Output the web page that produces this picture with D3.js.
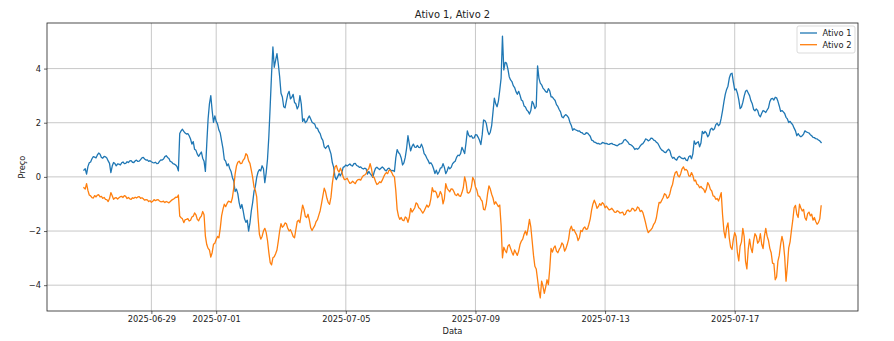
<!DOCTYPE html>
<html>
<head>
<meta charset="utf-8">
<script src="https://cdn.jsdelivr.net/npm/d3@7"></script>
<style>
  html, body { margin: 0; padding: 0; background: #ffffff; }
  svg { display: block; font-family: "DejaVu Sans", sans-serif; }
</style>
</head>
<body>
<svg id="chart" width="894" height="341"></svg>
<script>
// Hourly series, first sample 2025-06-26 22:00 UTC
const startTime = "2025-06-26T22:00:00Z";
const stepHours = 1;

const seriesNames = ["Ativo 1", "Ativo 2"];
const seriesColors = ["#1f77b4", "#ff7f0e"];

const ativo1 = [
  0.25, 0.30, 0.10, 0.38, 0.52, 0.55, 0.67, 0.75, 0.73, 0.70,
  0.81, 0.88, 0.84, 0.72, 0.69, 0.76, 0.74, 0.70, 0.59, 0.50,
  0.16, 0.40, 0.53, 0.49, 0.41, 0.48, 0.47, 0.44, 0.52, 0.55,
  0.49, 0.50, 0.56, 0.53, 0.59, 0.60, 0.54, 0.53, 0.59, 0.62,
  0.57, 0.58, 0.64, 0.70, 0.72, 0.66, 0.62, 0.63, 0.57, 0.60,
  0.56, 0.53, 0.52, 0.54, 0.49, 0.50, 0.57, 0.63, 0.62, 0.66,
  0.75, 0.78, 0.72, 0.68, 0.57, 0.55, 0.49, 0.47, 0.44, 0.38,
  0.22, 1.60, 1.70, 1.76, 1.68, 1.62, 1.58, 1.60, 1.52, 1.40,
  1.21, 1.30, 1.02, 0.98, 0.84, 0.76, 0.84, 0.92, 0.69, 0.58,
  0.20, 1.20, 2.14, 2.70, 3.00, 2.45, 2.01, 2.25, 2.05, 1.95,
  1.73, 1.62, 1.33, 1.05, 0.65, 0.58, 0.41, 0.48,
  0.31, 0.20, -0.02, -0.15, -0.54, -0.45, -0.62, -0.95, -1.16, -1.02,
  -1.26, -1.55, -1.68, -1.60, -2.00, -1.70, -1.26, -0.95, -0.54, -0.35,
  -0.02, 0.18, 0.27, 0.22, 0.41, 0.30, -0.21, 0.15, 0.65, 1.50,
  2.63, 3.80, 4.80, 4.05, 4.30, 4.55, 4.17, 3.70, 3.09, 2.95,
  2.59, 2.55, 2.81, 3.05, 3.16, 2.88, 2.94, 3.05, 2.75, 2.70,
  2.51, 2.62, 3.00, 2.70, 2.05, 2.15, 2.00, 2.05, 2.17, 2.25,
  2.14, 2.02, 1.98, 1.95, 1.80, 1.80, 1.67, 1.60, 1.43, 1.35,
  1.11, 1.05, 1.12, 1.16, 1.00, 0.85, 0.53, 0.35, 0.00, -0.10,
  0.01, 0.12, 0.04, 0.15, 0.35, 0.38, 0.44, 0.40, 0.44, 0.48,
  0.42, 0.40, 0.49, 0.50, 0.42, 0.40, 0.35, 0.37, 0.32, 0.29,
  0.32, 0.30,
  0.10, 0.20, 0.12, 0.06, -0.02, 0.18, 0.32, 0.36, 0.31, 0.27,
  0.32, 0.37, 0.32, 0.25, 0.22, 0.30, 0.32, 0.26, 0.22, 0.24,
  0.20, 0.70, 1.01, 0.90, 0.84, 0.70, 0.44, 0.52, 0.72, 1.05,
  1.52, 1.22, 0.96, 1.12, 1.21, 1.10, 1.09, 1.16, 1.09, 1.08,
  1.21, 1.08, 0.86, 0.80, 0.69, 0.60, 0.49, 0.52, 0.44, 0.30,
  0.12, 0.25, 0.10, 0.18, 0.32, 0.34, 0.49, 0.35, 0.12, 0.22,
  0.37, 0.30, 0.35, 0.48, 0.54, 0.58, 0.72, 0.80, 0.78, 0.86,
  1.09, 0.98, 0.86, 1.25, 1.70, 1.54, 1.48, 1.52, 1.43, 1.44,
  1.56, 1.55, 1.46, 1.35, 1.19, 1.55, 2.10, 2.08, 1.98, 1.70,
  1.56, 1.65, 1.89, 2.40, 2.91, 2.70, 2.59, 2.80, 3.20, 3.65,
  5.20, 3.95, 4.23, 4.20, 3.99, 3.70, 3.58, 3.52, 3.37, 3.30,
  3.15, 3.05, 3.16, 3.02, 2.84, 2.80, 2.62, 2.58, 2.47, 2.42,
  2.32, 2.45, 2.79, 2.70, 2.52, 2.60, 4.10, 3.65, 3.46, 3.40,
  3.28, 3.22, 3.15, 3.12, 3.26, 3.18, 2.96, 2.95, 2.88, 2.82,
  2.67, 2.60, 2.49, 2.40, 2.22, 2.18, 2.26, 2.30, 2.25, 2.18,
  2.01, 1.90, 1.72, 1.78, 1.74, 1.72, 1.69, 1.70, 1.64, 1.63,
  1.58, 1.57, 1.63, 1.62, 1.56, 1.50, 1.36, 1.34, 1.28, 1.27,
  1.23, 1.24, 1.21, 1.22, 1.27, 1.26, 1.23, 1.24, 1.21, 1.20,
  1.23, 1.24, 1.20, 1.19, 1.16, 1.15, 1.19, 1.22, 1.23, 1.26,
  1.36, 1.38, 1.33, 1.28, 1.20, 1.19, 1.15, 1.10, 1.01, 1.05,
  1.02, 1.06, 1.14, 1.20, 1.23, 1.30, 1.40, 1.38, 1.33, 1.36,
  1.43, 1.42, 1.36, 1.34, 1.28, 1.24, 1.15, 1.05, 0.99, 0.96,
  0.91, 0.90,
  0.97, 1.02, 0.96, 0.78, 0.69, 0.72, 0.65, 0.62, 0.72, 0.76,
  0.72, 0.68, 0.67, 0.70, 0.62, 0.60, 0.74, 0.78, 0.67, 0.85,
  1.33, 1.20, 1.26, 1.30, 1.11, 1.25, 1.68, 1.60, 1.68, 1.62,
  1.48, 1.55, 1.75, 1.80, 1.73, 1.78, 1.93, 1.98, 1.89, 1.95,
  2.17, 2.45, 2.77, 3.05, 3.23, 3.35, 3.65, 3.80, 3.83, 3.50,
  3.21, 3.25, 3.09, 2.85, 2.52, 2.58, 2.75, 2.98, 3.16, 3.20,
  3.10, 3.00, 2.81, 2.70, 2.49, 2.44, 2.51, 2.45, 2.28, 2.22,
  2.35, 2.45, 2.42, 2.38, 2.47, 2.55, 2.78, 2.88, 2.90, 2.84,
  2.94, 2.92, 2.79, 2.62, 2.42, 2.45, 2.40, 2.34, 2.20, 2.14,
  2.01, 2.05, 1.98, 1.92, 1.80, 1.70, 1.52, 1.60, 1.52, 1.48,
  1.52, 1.58, 1.70, 1.66, 1.64, 1.62, 1.56, 1.52, 1.46, 1.45,
  1.41, 1.40, 1.36, 1.33, 1.27
];

const ativo2 = [
  -0.40, -0.45, -0.25, -0.50, -0.67, -0.70, -0.77, -0.78, -0.69, -0.74,
  -0.67, -0.66, -0.74, -0.72, -0.79, -0.76, -0.83, -0.84, -0.91, -0.80,
  -0.58, -0.70, -0.83, -0.78, -0.77, -0.82, -0.77, -0.73, -0.72, -0.76,
  -0.69, -0.72, -0.80, -0.76, -0.81, -0.83, -0.77, -0.79, -0.75, -0.78,
  -0.74, -0.73, -0.79, -0.77, -0.81, -0.86, -0.84, -0.85, -0.91, -0.88,
  -0.94, -0.90, -0.84, -0.88, -0.85, -0.84, -0.89, -0.92, -0.91, -0.90,
  -0.95, -0.91, -0.93, -0.96, -0.91, -0.86, -0.83, -0.80, -0.75, -0.76,
  -0.67, -1.45, -1.51, -1.55, -1.69, -1.58, -1.57, -1.54, -1.63, -1.60,
  -1.48, -1.45, -1.33, -1.40, -1.57, -1.62, -1.51, -1.45, -1.28, -1.40,
  -2.19, -2.50, -2.64, -2.70, -2.96, -2.80, -2.49, -2.45, -2.31, -2.20,
  -2.25, -1.90, -1.44, -1.20, -1.01, -1.10, -0.99, -0.90,
  -0.91, -0.95, -0.77, -0.40, 0.10, 0.40, 0.54, 0.58, 0.49, 0.50,
  0.62, 0.68, 0.86, 0.80, 0.59, 0.50, 0.25, -0.02, -0.37, -0.50,
  -0.74, -1.50, -2.12, -2.30, -2.20, -2.00, -1.90, -2.05, -2.35, -2.80,
  -3.17, -3.25, -2.99, -2.95, -2.84, -2.70, -2.37, -2.00, -1.73, -1.86,
  -1.81, -1.70, -1.73, -1.90, -2.00, -1.95, -2.06, -2.20, -2.25, -1.95,
  -1.65, -1.60, -1.69, -1.35, -1.04, -1.20, -1.46, -1.50, -1.38, -1.60,
  -1.88, -1.98, -1.88, -1.80, -1.65, -1.58, -1.41, -1.25, -0.99, -0.70,
  -0.42, -0.55, -0.79, -0.95, -1.01, -0.75, -0.25, 0.10, 0.37, 0.42,
  0.25, 0.18, 0.32, 0.20, 0.00, -0.10, -0.09, -0.05, -0.15, -0.24,
  -0.22, -0.16, -0.21, -0.25, -0.15, -0.10, -0.09, -0.12, -0.02, 0.05,
  0.07, 0.12,
  0.25, 0.30, 0.49, 0.30, 0.00, -0.02, -0.17, -0.28, -0.25, -0.18,
  -0.21, -0.12, 0.00, 0.10, 0.16, 0.12, 0.25, 0.24, 0.16, 0.05,
  0.00, -0.50, -1.20, -1.45, -1.57, -1.50, -1.60, -1.62, -1.48, -1.52,
  -1.68, -1.50, -1.16, -1.30, -1.23, -1.15, -0.96, -1.00, -1.14, -1.18,
  -1.26, -1.34, -1.26, -1.15, -1.04, -1.12, -1.04, -0.80, -0.40, -0.55,
  -0.52, -0.58, -0.77, -0.70, -0.54, -0.65, -1.00, -0.80, -0.25, -0.42,
  -0.49, -0.55, -0.44, -0.45, -0.54, -0.66, -0.69, -0.62, -0.70, -0.72,
  -0.58, -0.40, 0.00, -0.20, -0.58, -0.60, -0.54, -0.38, -0.02, -0.12,
  -0.37, -0.48, -0.70, -0.72, -0.83, -0.90, -1.20, -1.22, -1.01, -0.62,
  -0.33, -0.45, -0.64, -0.78, -1.01, -0.92, -1.01, -1.10, -1.04, -1.80,
  -2.99, -2.60, -2.72, -2.80, -2.56, -2.50, -2.64, -2.78, -2.89, -2.70,
  -2.80, -2.90, -2.74, -2.50, -2.37, -2.30, -2.12, -2.00, -2.15, -1.90,
  -1.57, -1.85, -2.37, -2.90, -3.30, -3.40, -3.79, -4.20, -4.47, -3.85,
  -4.04, -4.30, -4.07, -3.80, -3.98, -3.40, -2.64, -2.78, -2.62, -2.55,
  -2.74, -2.80, -2.68, -2.60, -2.44, -2.50, -2.74, -2.65, -2.49, -2.30,
  -1.94, -1.82, -1.98, -1.95, -2.06, -2.15, -2.35, -2.25, -1.98, -2.02,
  -1.90, -1.85, -1.94, -1.92, -1.75, -1.55, -1.23, -1.00, -0.86, -0.98,
  -1.16, -1.10, -0.99, -1.05, -0.95, -1.00, -1.14, -1.08, -1.15, -1.22,
  -1.20, -1.16, -1.23, -1.30, -1.31, -1.25, -1.28, -1.34, -1.32, -1.30,
  -1.41, -1.38, -1.26, -1.22, -1.28, -1.26, -1.16, -1.18, -1.26, -1.22,
  -1.11, -1.15, -1.28, -1.24, -1.32, -1.50, -1.70, -1.92, -2.06, -2.00,
  -1.95, -1.88, -1.75, -1.68, -1.51, -1.20, -0.94, -0.96, -0.86, -0.76,
  -0.62, -0.66,
  -0.79, -0.75, -0.62, -0.40, -0.27, 0.00, 0.16, 0.20, 0.04, 0.00,
  0.12, 0.30, 0.37, 0.25, 0.28, 0.22, 0.04, 0.02, 0.16, 0.05,
  -0.15, -0.12, -0.27, -0.30, -0.40, -0.35, -0.42, -0.46, -0.58, -0.45,
  -0.21, -0.30, -0.46, -0.52, -0.70, -0.72, -0.83, -0.80, -0.89, -0.75,
  -0.58, -1.40, -2.00, -2.25, -1.88, -1.70, -2.27, -2.60, -2.68, -2.30,
  -2.06, -2.20, -2.80, -3.10, -2.56, -2.40, -1.90, -2.20, -3.11, -3.40,
  -2.68, -2.30, -2.62, -2.80, -2.37, -2.10, -2.19, -2.45, -2.37, -2.10,
  -2.49, -2.65, -2.19, -1.90, -2.19, -2.35, -2.64, -2.80, -3.19, -3.20,
  -3.80, -3.70, -3.11, -2.90, -2.49, -2.20, -2.43, -2.95, -3.85, -3.30,
  -2.62, -2.40, -1.98, -1.60, -1.14, -1.05, -1.38, -1.50, -1.01, -1.15,
  -1.26, -1.20, -1.51, -1.60, -1.36, -1.30, -1.44, -1.38, -1.60, -1.50,
  -1.65, -1.75, -1.69, -1.55, -1.07
];

const xTickLabels = ["2025-06-29", "2025-07-01", "2025-07-05", "2025-07-09", "2025-07-13", "2025-07-17"];
const yTickValues = [-4, -2, 0, 2, 4];

const titleText = "Ativo 1, Ativo 2";
const xLabelText = "Data";
const yLabelText = "Preço";

// ---- layout ----
const plot = { left: 47, right: 858, top: 23, bottom: 311 };
const svg = d3.select("#chart");

const t0 = new Date(startTime);
const times = ativo1.map((_, i) => new Date(t0.getTime() + i * stepHours * 3600e3));

// matplotlib-like 5% margins on both axes
const tExt = d3.extent(times);
const tPad = (tExt[1] - tExt[0]) * 0.05;
const x = d3.scaleUtc()
  .domain([new Date(tExt[0].getTime() - tPad), new Date(tExt[1].getTime() + tPad)])
  .range([plot.left, plot.right]);

const vExt = d3.extent(ativo1.concat(ativo2));
const vPad = (vExt[1] - vExt[0]) * 0.05;
const y = d3.scaleLinear()
  .domain([vExt[0] - vPad, vExt[1] + vPad])
  .range([plot.bottom, plot.top]);

const parseDay = d3.utcParse("%Y-%m-%d");
const xTicks = xTickLabels.map(parseDay);
const minus = s => s.replace("-", "\u2212");

// ---- grid ----
const grid = svg.append("g").attr("stroke", "#b0b0b0").attr("stroke-width", 0.7);
grid.selectAll("line.gx").data(xTicks).join("line")
  .attr("x1", d => x(d)).attr("x2", d => x(d))
  .attr("y1", plot.top).attr("y2", plot.bottom);
grid.selectAll("line.gy").data(yTickValues).join("line")
  .attr("x1", plot.left).attr("x2", plot.right)
  .attr("y1", d => y(d)).attr("y2", d => y(d));

// ---- series ----
svg.append("clipPath").attr("id", "plotClip")
  .append("rect")
  .attr("x", plot.left).attr("y", plot.top)
  .attr("width", plot.right - plot.left).attr("height", plot.bottom - plot.top);

const line = d3.line()
  .x((d, i) => x(times[i]))
  .y(d => y(d));

const series = [ativo1, ativo2];
svg.append("g").attr("clip-path", "url(#plotClip)")
  .selectAll("path").data(series).join("path")
  .attr("d", d => line(d))
  .attr("fill", "none")
  .attr("stroke", (d, i) => seriesColors[i])
  .attr("stroke-width", 1.3)
  .attr("stroke-linejoin", "round")
  .attr("stroke-linecap", "square");

// ---- axes ----
const xAxis = d3.axisBottom(x)
  .tickValues(xTicks)
  .tickFormat(d3.utcFormat("%Y-%m-%d"))
  .tickSizeInner(3).tickSizeOuter(0).tickPadding(2.5);
const gx = svg.append("g").attr("transform", `translate(0,${plot.bottom})`).call(xAxis);

const yAxis = d3.axisLeft(y)
  .tickValues(yTickValues)
  .tickFormat(d => minus(d3.format("d")(d)))
  .tickSizeInner(3).tickSizeOuter(0).tickPadding(3);
const gy = svg.append("g").attr("transform", `translate(${plot.left},0)`).call(yAxis);

[gx, gy].forEach(g => {
  g.select(".domain").remove();
  g.selectAll(".tick line").attr("stroke", "#222").attr("stroke-width", 0.7);
  g.selectAll(".tick text")
    .attr("fill", "#222")
    .style("font-family", "'DejaVu Sans', sans-serif")
    .style("font-size", "8.3px");
});

// frame
svg.append("rect")
  .attr("x", plot.left).attr("y", plot.top)
  .attr("width", plot.right - plot.left).attr("height", plot.bottom - plot.top)
  .attr("fill", "none").attr("stroke", "#222").attr("stroke-width", 0.8);

// ---- labels ----
const midX = (plot.left + plot.right) / 2;
const midY = (plot.top + plot.bottom) / 2;

svg.append("text")
  .attr("x", midX).attr("y", 17.5)
  .attr("text-anchor", "middle")
  .attr("fill", "#222")
  .style("font-size", "9.9px")
  .text(titleText);

svg.append("text")
  .attr("x", midX).attr("y", 334)
  .attr("text-anchor", "middle")
  .attr("fill", "#222")
  .style("font-size", "8.3px")
  .text(xLabelText);

svg.append("text")
  .attr("transform", `translate(25,${midY}) rotate(-90)`)
  .attr("text-anchor", "middle")
  .attr("fill", "#222")
  .style("font-size", "8.3px")
  .text(yLabelText);

// ---- legend ----
const lg = { w: 58, h: 27, pad: 3 };
const lgX = plot.right - lg.pad - lg.w;
const lgY = plot.top + lg.pad;
const legend = svg.append("g").attr("transform", `translate(${lgX},${lgY})`);
legend.append("rect")
  .attr("width", lg.w).attr("height", lg.h).attr("rx", 2)
  .attr("fill", "#ffffff").attr("fill-opacity", 0.8)
  .attr("stroke", "#cccccc").attr("stroke-width", 0.7);
const items = legend.selectAll("g.item").data(seriesNames).join("g")
  .attr("transform", (d, i) => `translate(0,${7 + i * 11.7})`);
items.append("line")
  .attr("x1", 3).attr("x2", 20)
  .attr("stroke", (d, i) => seriesColors[i])
  .attr("stroke-width", 1.3);
items.append("text")
  .attr("x", 25.5).attr("dy", "0.35em")
  .attr("fill", "#222")
  .style("font-size", "8.3px")
  .text(d => d);
</script>
</body>
</html>
